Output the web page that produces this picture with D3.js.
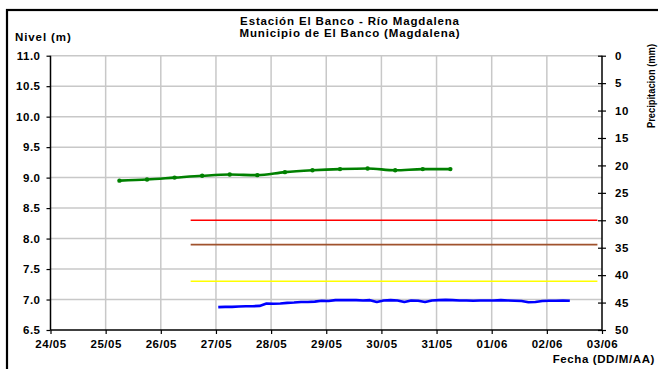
<!DOCTYPE html>
<html>
<head>
<meta charset="utf-8">
<script src="https://cdn.jsdelivr.net/npm/d3@7"></script>
<style>
  html, body { margin: 0; padding: 0; background: #fff; }
  svg { display: block; }
  text { font-family: "Liberation Sans", Arial, sans-serif; font-weight: bold; fill: #000; }
</style>
</head>
<body>
<svg id="chart" width="658" height="369"></svg>
<script>
// ---------- DATA ----------
const titleLines = ["Estación El Banco - Río Magdalena", "Municipio de El Banco (Magdalena)"];
const leftTicks = [6.5, 7.0, 7.5, 8.0, 8.5, 9.0, 9.5, 10.0, 10.5, 11.0];
const rightTicks = [0, 5, 10, 15, 20, 25, 30, 35, 40, 45, 50];
const dayTicks = ["2024-05-24","2024-05-25","2024-05-26","2024-05-27","2024-05-28","2024-05-29","2024-05-30","2024-05-31","2024-06-01","2024-06-02","2024-06-03"];

// Green series (12-hourly level readings)
const greenTimes = ["2024-05-25T06:00","2024-05-25T18:00","2024-05-26T06:00","2024-05-26T18:00","2024-05-27T06:00","2024-05-27T18:00","2024-05-28T06:00","2024-05-28T18:00","2024-05-29T06:00","2024-05-29T18:00","2024-05-30T06:00","2024-05-30T18:00","2024-05-31T06:00"];
const greenValues = [8.95, 8.97, 9.00, 9.03, 9.05, 9.04, 9.09, 9.12, 9.14, 9.15, 9.12, 9.14, 9.14];

// Blue series (3-hourly sensor readings, starting 27/05 01:00)
const blueStart = "2024-05-27T01:00";
const blueValues = [6.875, 6.88, 6.88, 6.885, 6.89, 6.89, 6.895, 6.935, 6.93, 6.935,
                    6.945, 6.95, 6.96, 6.96, 6.965, 6.98, 6.975, 6.99, 6.99, 6.99,
                    6.99, 6.985, 6.99, 6.96, 6.985, 6.99, 6.985, 6.96, 6.985, 6.98,
                    6.96, 6.985, 6.99, 6.995, 6.99, 6.985, 6.985, 6.98, 6.985, 6.985,
                    6.985, 6.99, 6.985, 6.98, 6.975, 6.955, 6.96, 6.975, 6.98, 6.98,
                    6.985, 6.98];

// Reference levels
const refNames = ["red", "brown", "yellow"];
const refValues = [8.3, 7.9, 7.3];
const refColors = ["#ff0000", "#a0522d", "#ffff00"];
const refStart = "2024-05-26T13:00";
const refEnd = "2024-06-02T22:00";

// ---------- LAYOUT ----------
const svg = d3.select("#chart");
const m = { left: 50.5, right: 602, top: 55.7, bottom: 330 };
const parse = s => new Date(s);

const x = d3.scaleTime()
  .domain([parse(dayTicks[0] + "T00:00"), parse(dayTicks[dayTicks.length - 1] + "T00:00")])
  .range([m.left, m.right]);
const y = d3.scaleLinear().domain([6.5, 11]).range([m.bottom, m.top]);
const yR = d3.scaleLinear().domain([0, 50]).range([m.top, m.bottom]);

// outer frame (right/bottom edges fall outside the picture)
svg.append("rect").attr("x", 7).attr("y", 10).attr("width", 660).attr("height", 370)
  .attr("fill", "none").attr("stroke", "#000").attr("stroke-width", 2.2);

// gridlines
const grid = svg.append("g");
grid.selectAll("line.h").data(leftTicks.slice(1)).join("line")
  .attr("x1", m.left).attr("x2", m.right)
  .attr("y1", d => y(d)).attr("y2", d => y(d))
  .attr("stroke", "#c8c8c8").attr("stroke-width", 1.5);
grid.selectAll("line.v").data(dayTicks.slice(1, -1)).join("line")
  .attr("x1", d => x(parse(d + "T00:00"))).attr("x2", d => x(parse(d + "T00:00")))
  .attr("y1", m.top).attr("y2", m.bottom)
  .attr("stroke", "#c8c8c8").attr("stroke-width", 1.5);

// reference lines
svg.append("g").selectAll("line").data(refValues).join("line")
  .attr("x1", x(parse(refStart))).attr("x2", x(parse(refEnd)))
  .attr("y1", d => y(d)).attr("y2", d => y(d))
  .attr("stroke", (d, i) => refColors[i]).attr("stroke-width", 1.6);

// blue series
const blueT0 = parse(blueStart);
const blueData = blueValues.map((v, i) => ({ t: d3.timeHour.offset(blueT0, i * 3), v }));
svg.append("path").datum(blueData)
  .attr("fill", "none").attr("stroke", "#0000ff").attr("stroke-width", 2.6)
  .attr("stroke-linejoin", "round")
  .attr("d", d3.line().x(d => x(d.t)).y(d => y(d.v)));

// green series
const greenData = greenTimes.map((t, i) => ({ t: parse(t), v: greenValues[i] }));
svg.append("path").datum(greenData)
  .attr("fill", "none").attr("stroke", "#008000").attr("stroke-width", 2.6)
  .attr("stroke-linejoin", "round")
  .attr("d", d3.line().curve(d3.curveMonotoneX).x(d => x(d.t)).y(d => y(d.v)));
svg.append("g").selectAll("circle").data(greenData).join("circle")
  .attr("cx", d => x(d.t)).attr("cy", d => y(d.v)).attr("r", 2.2).attr("fill", "#008000");

// axes
const gL = svg.append("g").attr("transform", `translate(${m.left},0)`)
  .call(d3.axisLeft(y).tickValues(leftTicks).tickFormat(d3.format(".1f")).tickSize(4).tickPadding(6));
const gB = svg.append("g").attr("transform", `translate(0,${m.bottom})`)
  .call(d3.axisBottom(x).tickValues(dayTicks.map(d => parse(d + "T00:00"))).tickFormat(d3.timeFormat("%d/%m")).tickSize(4).tickPadding(6));
const gR = svg.append("g").attr("transform", `translate(${m.right},0)`)
  .call(d3.axisRight(yR).tickValues(rightTicks).tickSize(4).tickPadding(9));
gR.selectAll(".tick line").attr("x1", -4);
[gL, gB, gR].forEach(g => {
  g.select(".domain").remove();
  g.selectAll("text").style("font-size", "11.5px").style("letter-spacing", "0.5px")
    .style("font-family", "'Liberation Sans', Arial, sans-serif").style("font-weight", "bold").attr("fill", "#000");
  g.selectAll(".tick line").attr("stroke", "#000").attr("stroke-width", 1.2);
});
svg.append("line").attr("x1", m.left).attr("x2", m.left).attr("y1", m.top).attr("y2", m.bottom).attr("stroke", "#000").attr("stroke-width", 1.5);
svg.append("line").attr("x1", m.left).attr("x2", m.right).attr("y1", m.bottom).attr("y2", m.bottom).attr("stroke", "#000").attr("stroke-width", 1.5);
svg.append("line").attr("x1", m.right).attr("x2", m.right).attr("y1", m.top).attr("y2", m.bottom).attr("stroke", "#000").attr("stroke-width", 1.5);

// titles
svg.append("g").selectAll("text").data(titleLines).join("text")
  .attr("x", 350).attr("y", (d, i) => 25 + i * 11.7)
  .attr("text-anchor", "middle").style("font-size", "11.5px").style("letter-spacing", "0.85px").text(d => d);

svg.append("text").attr("x", 15).attr("y", 41).style("font-size", "11.5px").style("letter-spacing", "0.9px").text("Nivel (m)");
svg.append("text").attr("x", 655).attr("y", 363).attr("text-anchor", "end").style("font-size", "11.5px").style("letter-spacing", "0.6px").text("Fecha (DD/M/AA)");
svg.append("text").attr("transform", "translate(655,86) rotate(-90)")
  .attr("text-anchor", "middle").style("font-size", "11px")
  .attr("textLength", 84).attr("lengthAdjust", "spacingAndGlyphs").text("Precipitacion (mm)");
</script>
</body>
</html>
